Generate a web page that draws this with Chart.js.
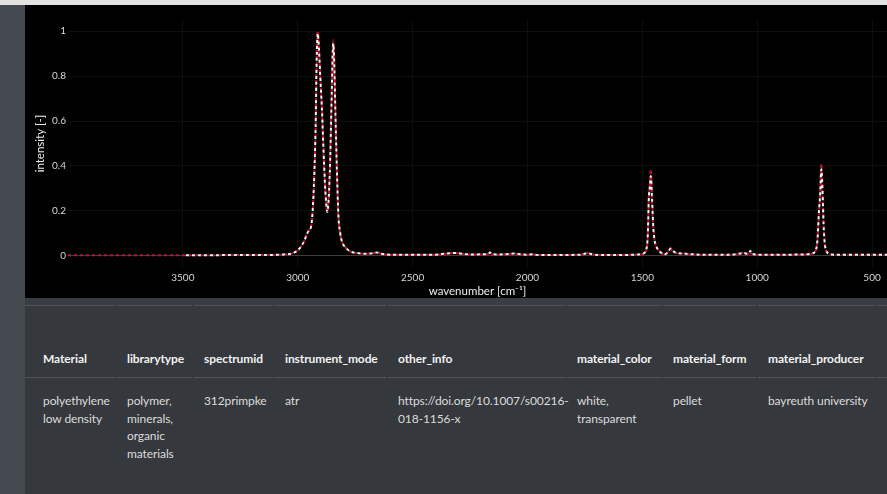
<!DOCTYPE html>
<html>
<head>
<meta charset="utf-8">
<title>spectrum</title>
<script src="https://cdn.jsdelivr.net/npm/chart.js@4.4.0/dist/chart.umd.min.js"></script>
<style>
  html, body { margin: 0; padding: 0; }
  body {
    width: 887px; height: 494px; overflow: hidden; position: relative;
    background: #35383d; font-family: "Lato", "Noto Sans", sans-serif;
  }
  #topBar { position: absolute; left: 0; top: 0; width: 887px; height: 5px; background: #e2e2e2; }
  #sideBar { position: absolute; left: 0; top: 5px; width: 25px; height: 489px; background: #454a51; }
  #chartBox { position: absolute; left: 25px; top: 5px; width: 862px; height: 293px; background: #000; }
  #gap { position: absolute; left: 25px; top: 298px; width: 862px; height: 7px; background: #3a3e43; }
  .cell { position: absolute; box-sizing: border-box; font-size: 12px; line-height: 17.7px;
          letter-spacing: -0.1px; white-space: normal; }
  .head { top: 305px; height: 73px; border-top: 1px solid #50545a; border-bottom: 1px solid #50545a;
          display: flex; align-items: flex-end; padding-bottom: 9px; color: #f2f2f2; font-weight: 700; }
  .data { top: 378px; padding-top: 14px; color: #dcdcdc; }
</style>
</head>
<body>
<div id="topBar"></div>
<div id="sideBar"></div>
<div id="chartBox"><canvas id="spectrumChart"></canvas></div>
<div id="gap"></div>
<div id="tableBox"></div>

<script>
// ───────── 데이터 ─────────
const wavenumbers = [
  4000, 3800, 3600, 3500, 3300, 3100, 3060, 3020, 2990, 2970,
  2961, 2950, 2942, 2935, 2928, 2922, 2918, 2913, 2908, 2902,
  2895, 2885, 2878, 2871, 2865, 2859, 2852, 2848, 2845, 2841,
  2837, 2830, 2823, 2815, 2808, 2790, 2772, 2740, 2700, 2670,
  2656, 2640, 2600, 2500, 2400, 2360, 2330, 2310, 2280, 2240,
  2190, 2170, 2163, 2155, 2120, 2080, 2061, 2040, 2000, 1981,
  1960, 1900, 1800, 1760, 1740, 1730, 1710, 1650, 1560, 1520,
  1500, 1490, 1482, 1476, 1472, 1468, 1463, 1458, 1453, 1447,
  1440, 1432, 1420, 1405, 1395, 1385, 1377, 1370, 1360, 1345,
  1320, 1300, 1250, 1200, 1150, 1100, 1075, 1060, 1045, 1035,
  1030, 1026, 1015, 1000, 950, 900, 850, 800, 770, 760,
  750, 743, 737, 731, 726, 721, 716, 711, 706, 700,
  690, 670, 620, 560, 500, 435
];

// 라이브러리 스펙트럼 (빨강)
const libraryIntensity = [
  0.002, 0.002, 0.002, 0.002, 0.003, 0.004, 0.006, 0.012, 0.035, 0.07,
  0.095, 0.115, 0.13, 0.2, 0.36, 0.58, 0.85, 1.0, 0.93, 0.8,
  0.66, 0.4, 0.26, 0.195, 0.26, 0.42, 0.72, 0.9, 0.96, 0.86,
  0.68, 0.4, 0.18, 0.1, 0.065, 0.035, 0.02, 0.012, 0.009, 0.012,
  0.015, 0.01, 0.005, 0.004, 0.005, 0.009, 0.012, 0.012, 0.008, 0.006,
  0.007, 0.009, 0.013, 0.007, 0.006, 0.008, 0.01, 0.008, 0.005, 0.007,
  0.004, 0.003, 0.004, 0.006, 0.012, 0.01, 0.005, 0.003, 0.004, 0.006,
  0.008, 0.014, 0.03, 0.1, 0.25, 0.31, 0.385, 0.26, 0.14, 0.07,
  0.045, 0.027, 0.015, 0.006, 0.01, 0.022, 0.032, 0.025, 0.016, 0.012,
  0.01, 0.008, 0.005, 0.004, 0.004, 0.006, 0.01, 0.013, 0.009, 0.012,
  0.018, 0.01, 0.007, 0.005, 0.004, 0.004, 0.005, 0.006, 0.008, 0.01,
  0.016, 0.03, 0.08, 0.2, 0.27, 0.41, 0.3, 0.14, 0.055, 0.025,
  0.01, 0.005, 0.004, 0.004, 0.005, 0.005
];

// 측정 스펙트럼 (흰색, 3500 부터)
const sampleIntensity = [
  null, null, null, 0.002, 0.003, 0.004, 0.006, 0.012, 0.035, 0.07,
  0.095, 0.115, 0.13, 0.2, 0.36, 0.58, 0.85, 0.99, 0.93, 0.8,
  0.66, 0.4, 0.26, 0.195, 0.26, 0.42, 0.72, 0.9, 0.945, 0.86,
  0.68, 0.4, 0.18, 0.1, 0.065, 0.035, 0.02, 0.012, 0.009, 0.012,
  0.015, 0.01, 0.005, 0.004, 0.005, 0.009, 0.012, 0.012, 0.008, 0.006,
  0.007, 0.009, 0.015, 0.007, 0.006, 0.008, 0.01, 0.008, 0.005, 0.007,
  0.004, 0.003, 0.004, 0.006, 0.012, 0.01, 0.005, 0.003, 0.004, 0.006,
  0.008, 0.014, 0.03, 0.1, 0.25, 0.3, 0.355, 0.26, 0.14, 0.07,
  0.045, 0.027, 0.015, 0.006, 0.01, 0.022, 0.032, 0.025, 0.016, 0.012,
  0.01, 0.008, 0.005, 0.004, 0.004, 0.006, 0.01, 0.013, 0.009, 0.012,
  0.022, 0.01, 0.007, 0.005, 0.004, 0.004, 0.005, 0.006, 0.008, 0.01,
  0.016, 0.03, 0.08, 0.2, 0.27, 0.385, 0.3, 0.14, 0.055, 0.025,
  0.01, 0.005, 0.004, 0.004, 0.005, 0.005
];

const xTicks = [3500, 3000, 2500, 2000, 1500, 1000, 500];
const yTicks = [0, 0.2, 0.4, 0.6, 0.8, 1];

// 표 데이터
const columns = ['Material', 'librarytype', 'spectrumid', 'instrument_mode', 'other_info',
  'material_color', 'material_form', 'material_producer', 'hit quality index'];
const rowValues = ['polyethylene low density', 'polymer, minerals, organic materials', '312primpke', 'atr',
  'https://doi.org/10.1007/s00216-018-1156-x', 'white, transparent', 'pellet', 'bayreuth university', 'pearson correlation'];
const colLefts = [25, 117, 194, 275, 388, 567, 663, 758, 877];
const colWidths = [90, 75, 79, 111, 177, 94, 93, 117, 100];

// ─ 표 렌더링
function renderTable() {
  const box = document.getElementById('tableBox');
  box.innerHTML = columns.map((c, i) => {
    const pad = i === 0 ? 18 : 10;
    return `
    <div class="cell head" style="left:${colLefts[i]}px;width:${colWidths[i]}px;padding-left:${pad}px">${c}</div>
    <div class="cell data" style="left:${colLefts[i]}px;width:${colWidths[i]}px;padding-left:${pad}px;padding-right:2px">${rowValues[i]}</div>`;
  }).join('');
}

// ─ 스펙트럼 차트
function initSpectrumChart() {
  const ctx = document.getElementById('spectrumChart').getContext('2d');
  const tickFont = { family: 'Lato, "Noto Sans", sans-serif', size: 10 };
  const titleFont = { family: 'Lato, "Noto Sans", sans-serif', size: 11.5 };

  new Chart(ctx, {
    type: 'line',
    data: {
      datasets: [
        {
          label: 'sample',
          data: wavenumbers.map((x, i) => ({ x, y: sampleIntensity[i] })),
          borderColor: '#f4f4f4',
          borderWidth: 2,
          borderDash: [3, 3],
          borderDashOffset: 3,
          pointRadius: 0,
          cubicInterpolationMode: 'monotone',
          spanGaps: false,
          order: 0
        },
        {
          label: 'library',
          data: wavenumbers.map((x, i) => ({ x, y: libraryIntensity[i] })),
          borderColor: '#c8102e',
          borderWidth: 2,
          borderDash: [3, 3],
          pointRadius: 0,
          cubicInterpolationMode: 'monotone',
          order: 1
        }
      ]
    },
    options: {
      responsive: true,
      maintainAspectRatio: false,
      animation: false,
      layout: { padding: { top: 15, right: 0, left: 0, bottom: 0 } },
      plugins: { legend: { display: false }, tooltip: { enabled: false } },
      scales: {
        x: {
          type: 'linear',
          reverse: true,
          min: 435,
          max: 4000,
          afterBuildTicks: s => { s.ticks = xTicks.map(v => ({ value: v })); },
          afterFit: s => { s.height = 31; },
          grid: { color: '#0e0e0e', drawTicks: false },
          border: { display: false },
          ticks: { color: '#d6d6d6', font: tickFont, padding: 5, maxRotation: 0,
                   callback: v => String(v) },
          title: { display: true, text: 'wavenumber [cm⁻¹]', color: '#eeeeee', font: titleFont,
                   padding: { top: 0, bottom: 0 } }
        },
        y: {
          min: -0.05,
          max: 1.05,
          afterBuildTicks: s => { s.ticks = yTicks.map(v => ({ value: v })); },
          afterFit: s => { s.width = 43; },
          grid: { color: c => (c.tick && c.tick.value === 0 ? '#3c3f3c' : '#0e0e0e'), drawTicks: false },
          border: { display: false },
          ticks: { color: '#d6d6d6', font: tickFont, padding: 2, callback: v => String(v) },
          title: { display: true, text: 'intensity [-]', color: '#eeeeee', font: titleFont,
                   padding: { top: 8, bottom: 0 } }
        }
      }
    }
  });
}

// ─ 초기화
renderTable();
initSpectrumChart();
</script>
</body>
</html>
